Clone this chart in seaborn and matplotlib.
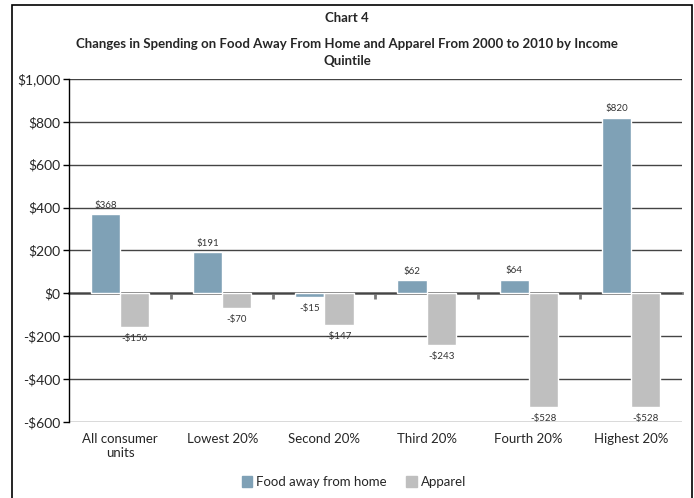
import pandas as pd
import matplotlib.pyplot as plt
import matplotlib.ticker as mticker
from matplotlib.patches import Rectangle
import seaborn as sns

# Chart data
groups = ["All consumer\nunits", "Lowest 20%", "Second 20%", "Third 20%", "Fourth 20%", "Highest 20%"]
food_away = [368, 191, -15, 62, 64, 820]
apparel = [-156, -70, -147, -243, -528, -528]
series_names = ["Food away from home", "Apparel"]
colors = ["#7FA1B6", "#BFBFBF"]
y_ticks = [-600, -400, -200, 0, 200, 400, 600, 800, 1000]

df = pd.DataFrame({
    "group": groups * 2,
    "series": [series_names[0]] * len(groups) + [series_names[1]] * len(groups),
    "value": food_away + apparel,
})

sns.set_style("white")
plt.rcParams["font.family"] = ["Lato", "DejaVu Sans"]

fig = plt.figure(figsize=(6.94, 4.98), dpi=100)
ax = fig.add_axes([0.0994, 0.1526, 0.8833, 0.6888])

sns.barplot(data=df, x="group", y="value", hue="series", palette=colors,
            saturation=1, width=0.57, edgecolor="white", linewidth=1, ax=ax,
            legend=False)

def money(v):
    return f"${v:,.0f}" if v >= 0 else f"-${-v:,.0f}"

for cont in ax.containers:
    for bar in cont:
        h = bar.get_height()
        pad = 3 if h >= 0 else 5
        ax.annotate(money(h), (bar.get_x() + bar.get_width() / 2, h),
                    xytext=(0, pad if h >= 0 else -pad), textcoords="offset points",
                    ha="center", va="bottom" if h >= 0 else "top",
                    fontsize=7, color="#333333")

ax.set_ylim(-600, 1000)
ax.set_xlim(-0.5, len(groups) - 0.5)
ax.set_yticks(y_ticks)
ax.yaxis.set_major_formatter(mticker.FuncFormatter(lambda v, p: money(v)))
ax.grid(axis="y", color="#444444", linewidth=1)
ax.set_axisbelow(True)
ax.set_xlabel("")
ax.set_ylabel("")
for side in ["top", "right", "bottom"]:
    ax.spines[side].set_visible(False)
ax.spines["left"].set_color("black")
ax.spines["left"].set_linewidth(1)
ax.tick_params(axis="y", length=4, width=1, color="black", labelsize=10, pad=2,
               left=True)
ax.tick_params(axis="x", length=0, labelsize=9.5, pad=8)
ax.set_xticks(range(len(groups)))
ax.set_xticklabels(groups)

# zero line with category-boundary ticks
zero_axis = ax.secondary_xaxis(600 / 1600)
zero_axis.set_xticks([i + 0.5 for i in range(len(groups) - 1)])
zero_axis.set_xticklabels([])
zero_axis.tick_params(direction="out", length=4, width=2, color="#7A7A7A")
zero_axis.spines["bottom"].set_color("#7A7A7A")
zero_axis.spines["bottom"].set_linewidth(2)

fig.text(0.5, 0.963, "Chart 4", ha="center", va="center", fontsize=9.5, fontweight="bold")
fig.text(0.5, 0.895,
         "Changes in Spending on Food Away From Home and Apparel From 2000 to 2010 by Income\nQuintile",
         ha="center", va="center", fontsize=9.5, fontweight="bold", linespacing=1.5)

handles = [Rectangle((0, 0), 1, 1, color=c) for c in colors]
fig.legend(handles, series_names, loc="center", bbox_to_anchor=(0.51, 0.032),
           ncol=2, frameon=False, fontsize=9.5, handlelength=0.8, handleheight=0.8,
           handletextpad=0.3, columnspacing=1.5)

fig.patches.append(Rectangle((12 / 694, -0.02), 680 / 694, 1.01, transform=fig.transFigure,
                             fill=False, edgecolor="black", linewidth=1.2))

fig.savefig("out.png", dpi=100)
